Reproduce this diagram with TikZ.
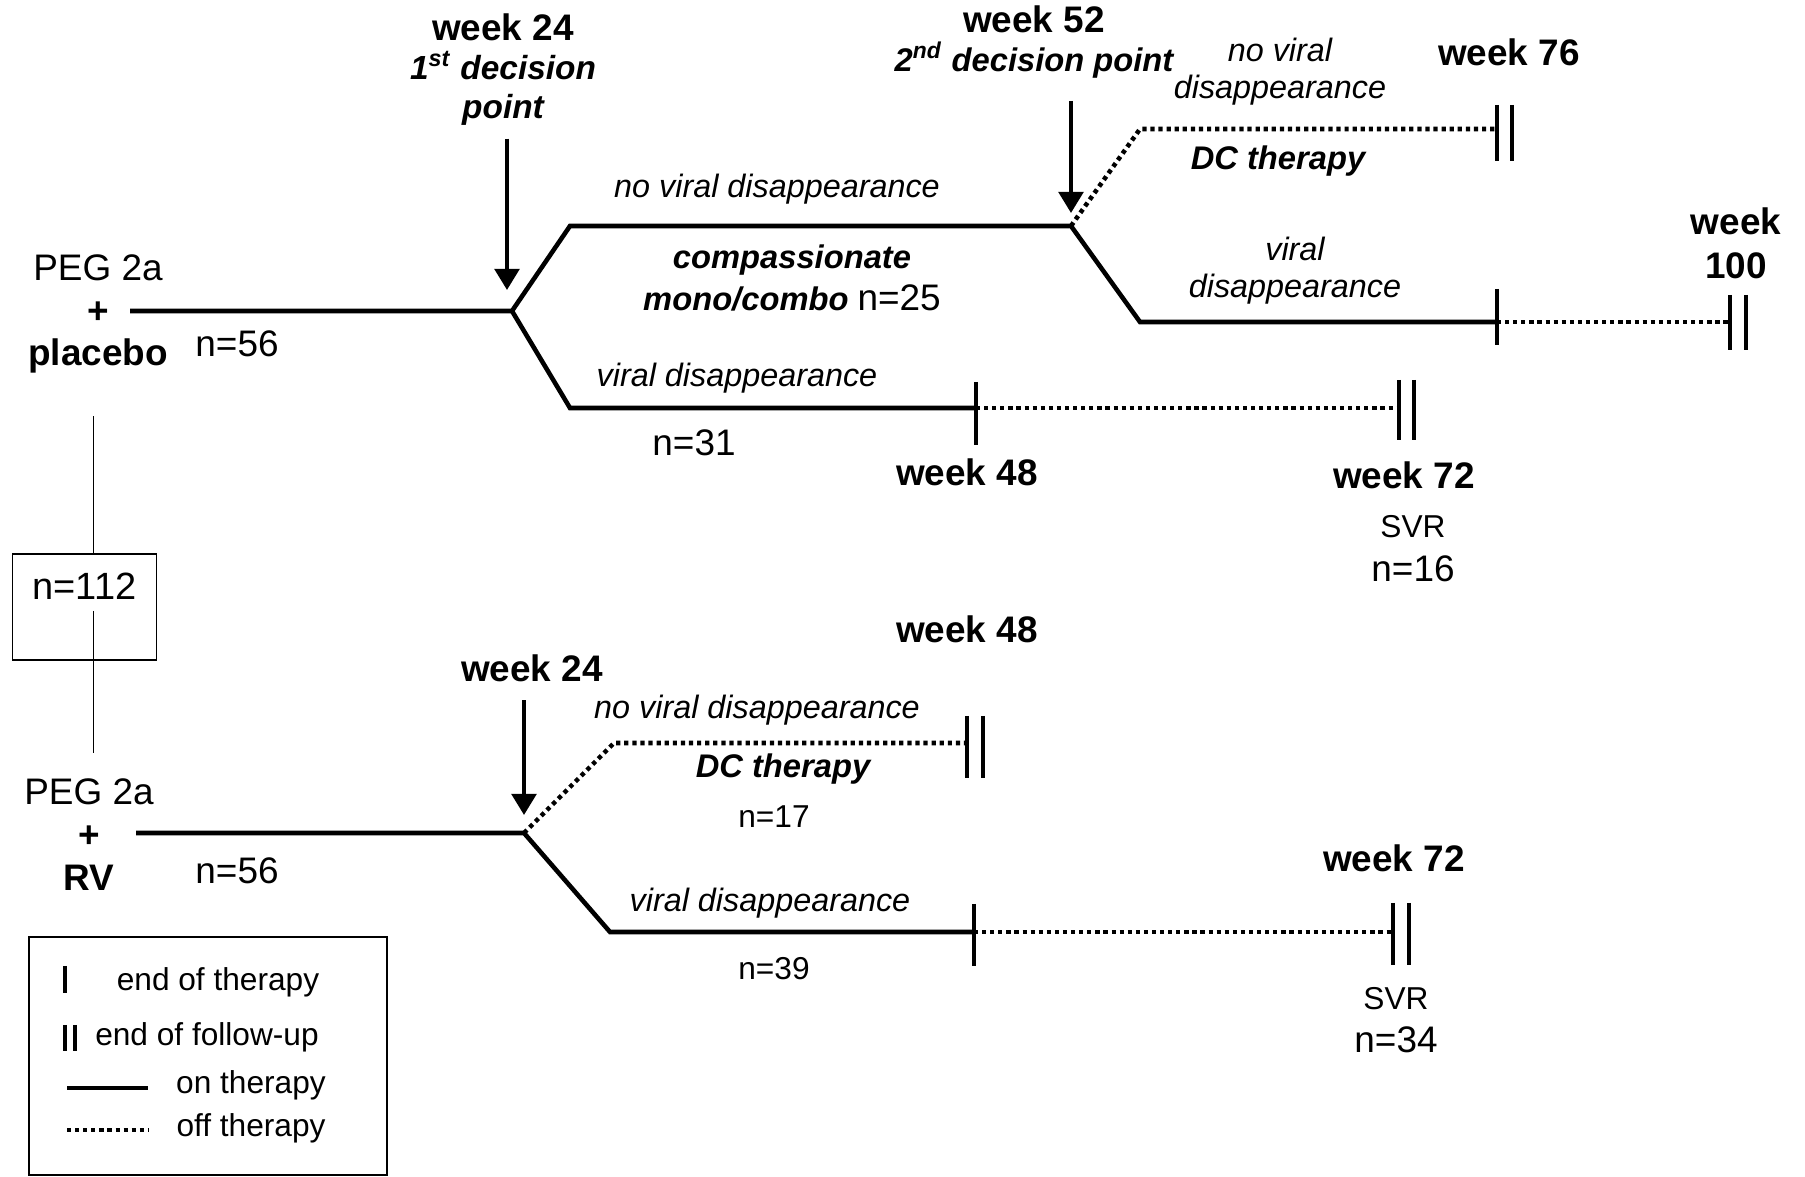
\documentclass[tikz,border=0pt]{standalone}
\usepackage{fontspec}
\setmainfont{Liberation Sans}
\usetikzlibrary{arrows.meta,positioning}

\tikzset{
  onth/.style={line width=1.3pt},
  offth/.style={line width=1.3pt,dash pattern=on 1.2pt off 1.1pt},
  tick/.style={line width=1pt},
  thin/.style={line width=0.5pt},
  dec/.style={line width=1.1pt,-{Triangle[width=7pt,length=6pt]}},
  wk/.style={font=\bfseries\fontsize{10.5}{11.1}\selectfont,align=center,inner sep=0pt},
  lab/.style={font=\itshape\fontsize{9.2}{10.5}\selectfont,align=center,inner sep=0pt},
  bilab/.style={font=\bfseries\itshape\fontsize{9.3}{11.7}\selectfont,align=center,inner sep=0pt},
  num/.style={font=\fontsize{10.5}{12}\selectfont,inner sep=0pt},
  sml/.style={font=\fontsize{9}{11}\selectfont,inner sep=0pt},
  arm/.style={font=\fontsize{10.5}{12.2}\selectfont,align=center,inner sep=0pt},
}

\begin{document}
\begin{tikzpicture}[x=0.01cm,y=-0.01cm]
\useasboundingbox (0,0) rectangle (1805,1177);

%placebo arm
\node[arm] (pla) at (98,314) {PEG 2a\\\textbf{+}\\\textbf{placebo}};
\node[num] (n56a) at (237,344) {n=56};
\coordinate (s1) at (130,311);
\coordinate (b1) at (512,311);
\coordinate (u1) at (570,226);
\coordinate (b2) at (1071,226);
\coordinate (l1) at (570,408);
\coordinate (e1) at (976,408);
\coordinate (f1) at (1399,408);
\coordinate (u2) at (1140,129);
\coordinate (f2) at (1497,129);
\coordinate (l2) at (1140,322);
\coordinate (e2) at (1497,322);
\coordinate (f3) at (1730,322);
\coordinate (d1) at (507,290);
\coordinate (d2) at (1071,213);

\draw[onth] (s1) -- (b1) -- (u1) -- (b2) -- (l2) -- (e2);
\draw[onth] (b1) -- (l1) -- (e1);
\draw[offth] (e1) -- (f1);
\draw[offth] (b2) -- (u2) -- (f2);
\draw[offth] (e2) -- (f3);
\draw[tick] (e1) ++(0,-26) -- ++(0,63);
\draw[tick] (f1) ++(0,-28) -- ++(0,60);
\draw[tick] (f1) ++(15,-28) -- ++(0,60);
\draw[tick] (f2) ++(0,-24) -- ++(0,56);
\draw[tick] (f2) ++(15,-24) -- ++(0,56);
\draw[tick] (e2) ++(0,-33) -- ++(0,56);
\draw[tick] (f3) ++(0,-27) -- ++(0,55);
\draw[tick] (f3) ++(16,-27) -- ++(0,55);

\node[wk] (wk24a) at (503,70) {week 24\\{\itshape\fontsize{9.5}{11.1}\selectfont 1\textsuperscript{st} decision}\\{\itshape\fontsize{9.5}{11.1}\selectfont point}};
\draw[dec] (wk24a.south -| d1) ++(0,12) -- (d1);
\node[wk] (wk52) at (1034,42) {week 52\\{\itshape\fontsize{9.3}{11.1}\selectfont 2\textsuperscript{nd} decision point}};
\draw[dec] (wk52.south -| d2) ++(0,22) -- (d2);

\node[lab] (nvd1) at (777,189) {no viral disappearance};
\node[bilab] (comp) at (792,278) {compassionate\\mono/combo {\normalfont\fontsize{10.5}{11.7}\selectfont n=25}};
\node[lab] (vd1) at (737,378) {viral disappearance};
\node[num] (n31) at (694,443) {n=31};
\node[wk] (wk48a) at (967,472) {week 48};
\node[wk] (wk72a) at (1404,475) {week 72};
\node[sml] (svr1) at (1413,527) {SVR};
\node[num] (n16) at (1413,569) {n=16};
\node[lab] (nvd2) at (1280,72) {no viral\\disappearance};
\node[bilab] (dc1) at (1278,161) {DC therapy};
\node[wk] (wk76) at (1509,52) {week 76};
\node[lab] (vd2) at (1295,271) {viral\\disappearance};
\node[wk,font=\bfseries\fontsize{10.5}{12.5}\selectfont] (wk100) at (1736,243) {week\\100};

%randomisation
\node[draw,thin,inner sep=0pt,minimum width=41pt,text height=13pt,text depth=17.3pt,font=\fontsize{10.8}{12}\selectfont] (rand) at (84.5,607) {n=112};
\draw[thin] (rand.north) ++(9,0) -- ++(0,-137);
\draw[thin] (rand.north) ++(9,58) -- ++(0,142);

%RV arm
\node[arm] (rv) at (89,835) {PEG 2a\\\textbf{+}\\\textbf{RV}};
\node[num] (n56b) at (237,871) {n=56};
\coordinate (s2) at (136,833);
\coordinate (b3) at (524,833);
\coordinate (u3) at (614,743);
\coordinate (f4) at (967,743);
\coordinate (l3) at (610,932);
\coordinate (e3) at (974,932);
\coordinate (f5) at (1393,932);
\coordinate (d3) at (524,815);

\draw[onth] (s2) -- (b3) -- (l3) -- (e3);
\draw[offth] (b3) -- (u3) -- (f4);
\draw[offth] (e3) -- (f5);
\draw[tick] (e3) ++(0,-28) -- ++(0,62);
\draw[tick] (f4) ++(0,-27) -- ++(0,62);
\draw[tick] (f4) ++(16,-27) -- ++(0,62);
\draw[tick] (f5) ++(0,-29) -- ++(0,62);
\draw[tick] (f5) ++(16,-29) -- ++(0,62);

\node[wk] (wk24b) at (532,668) {week 24};
\draw[dec] (wk24b.south -| d3) ++(0,18) -- (d3);
\node[wk] (wk48b) at (967,629) {week 48};
\node[lab] (nvd3) at (757,710) {no viral disappearance};
\node[bilab] (dc2) at (783,769) {DC therapy};
\node[sml] (n17) at (774,817) {n=17};
\node[lab] (vd3) at (770,903) {viral disappearance};
\node[sml] (n39) at (774,969) {n=39};
\node[wk] (wk72b) at (1394,858) {week 72};
\node[sml] (svr2) at (1396,999) {SVR};
\node[num] (n34) at (1396,1040) {n=34};

%key
\node[draw,thin,minimum width=3.58cm,minimum height=2.38cm,inner sep=0pt] (key) at (208,1056) {};
\draw[tick,line width=1.3pt] (65,966) -- ++(0,27);
\node[sml] (k1) at (218,982) {end of therapy};
\draw[tick,line width=1.3pt] (65,1025) -- ++(0,26);
\draw[tick,line width=1.3pt] (75,1025) -- ++(0,26);
\node[sml] (k2) at (207,1037) {end of follow-up};
\draw[onth] (67,1088) -- ++(81,0);
\node[sml] (k3) at (251,1085) {on therapy};
\draw[offth] (67,1130) -- ++(81,0);
\node[sml] (k4) at (251,1128) {off therapy};
\end{tikzpicture}
\end{document}
